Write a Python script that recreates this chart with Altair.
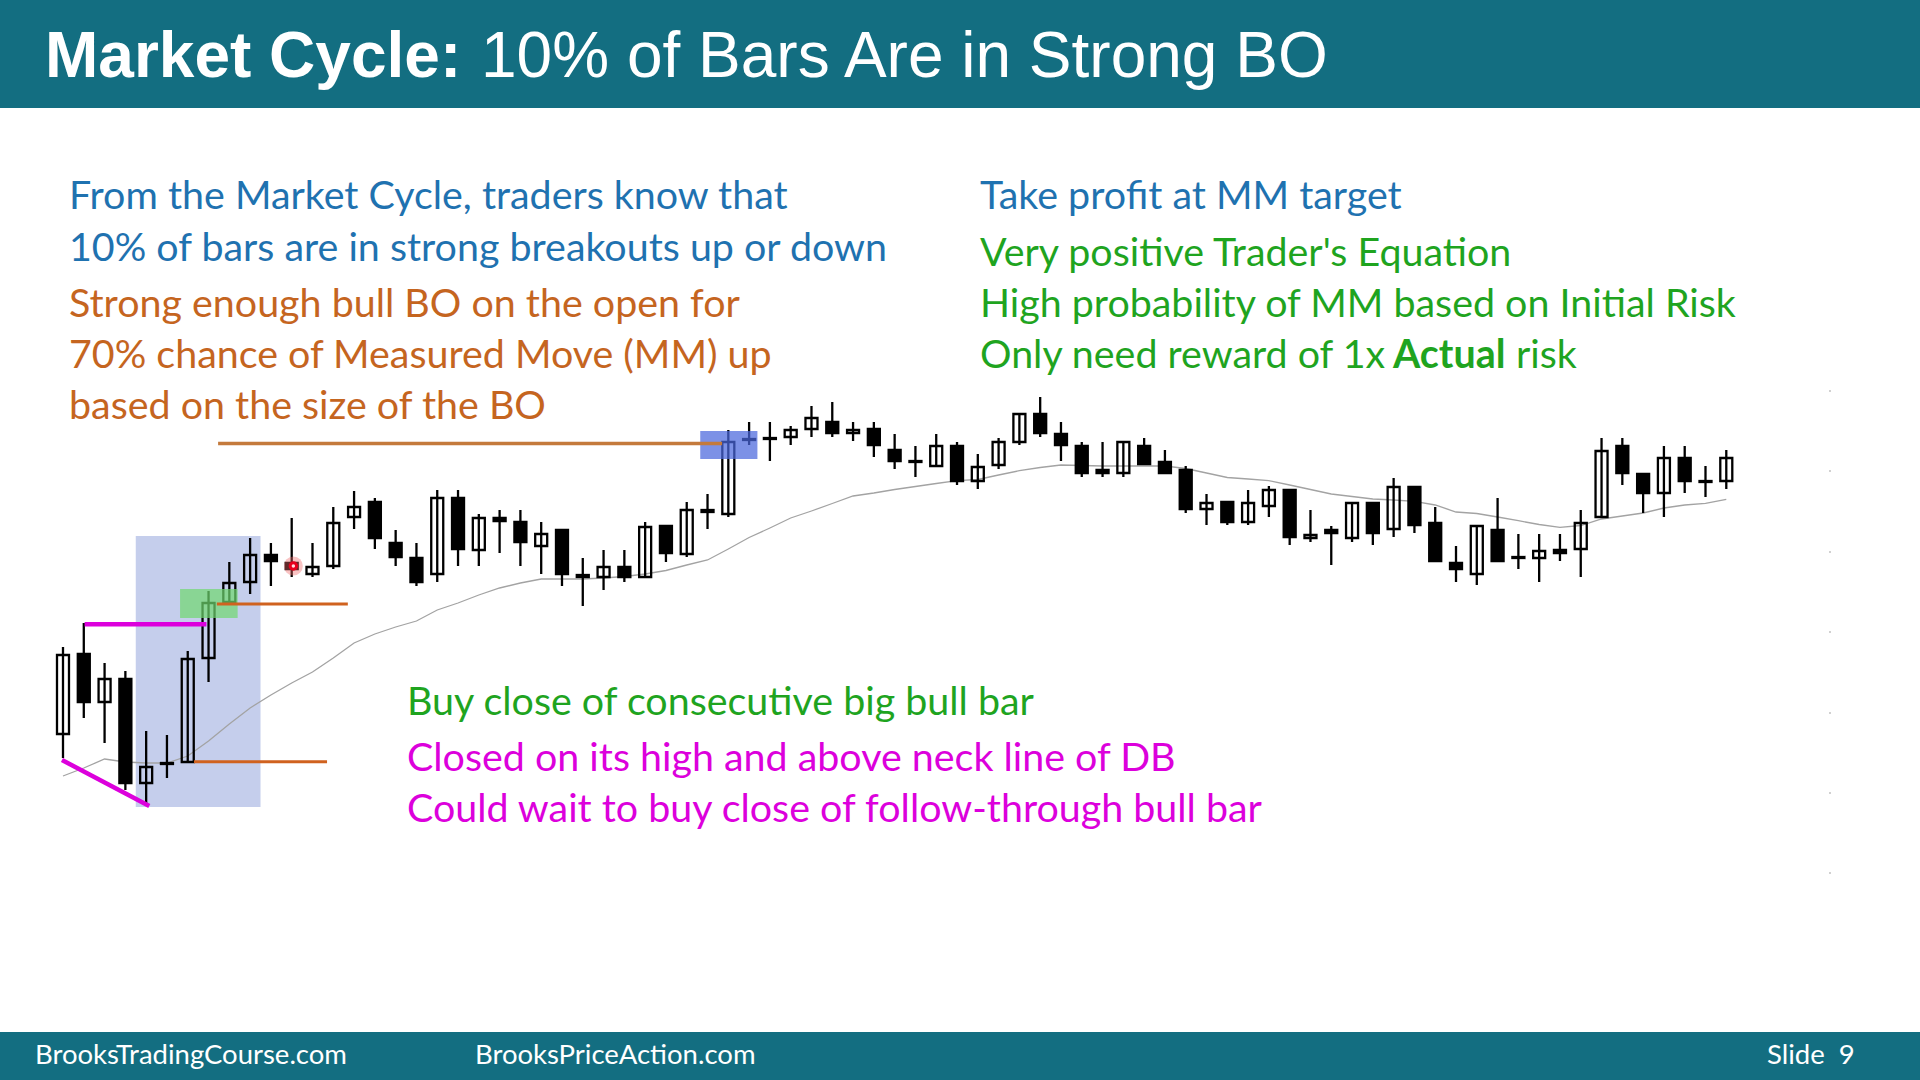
import altair as alt
import pandas as pd

# ---------------- data (price units, bar index 1..81) ----------------
opens = [266, 346, 298, 321, 217, 236, 238, 342, 398, 418,
         445, 437, 426, 434, 483, 498, 457, 442, 426, 502,
         450, 482, 478, 454, 470, 423, 423, 433, 423, 474,
         446, 490, 486, 560, 561, 563, 571, 578, 567, 571,
         550, 538, 534, 554, 519, 535, 558, 586, 566, 554,
         530, 527, 554, 538, 530, 491, 498, 478, 494, 510,
         462, 470, 462, 497, 471, 513, 477, 437, 426, 470,
         442, 442, 450, 451, 483, 554, 526, 507, 542, 518, 519]
highs = [353, 377, 337, 329, 269, 265, 349, 409, 438, 462,
         457, 482, 457, 493, 509, 502, 470, 457, 510, 510,
         486, 490, 490, 478, 470, 442, 450, 450, 478, 474,
         498, 506, 570, 578, 578, 574, 594, 598, 578, 578,
         566, 554, 566, 558, 546, 562, 586, 603, 578, 558,
         558, 558, 562, 550, 534, 506, 498, 510, 514, 510,
         490, 474, 497, 497, 522, 513, 493, 454, 474, 502,
         466, 466, 466, 490, 562, 562, 526, 554, 554, 534, 550]
lows = [242, 282, 257, 210, 195, 222, 238, 318, 397, 406,
        414, 423, 423, 431, 471, 451, 434, 414, 418, 434,
        434, 447, 434, 426, 414, 394, 410, 418, 423, 438,
        443, 471, 483, 555, 539, 555, 563, 563, 559, 543,
        531, 523, 534, 515, 511, 531, 555, 563, 539, 523,
        523, 523, 535, 527, 487, 475, 475, 475, 483, 455,
        458, 435, 458, 455, 463, 467, 439, 418, 415, 439,
        431, 418, 439, 423, 483, 515, 487, 483, 507, 503, 511]
closes = [345, 298, 321, 217, 233, 237, 341, 397, 417, 445,
          439, 431, 433, 477, 493, 462, 443, 418, 502, 451,
          482, 479, 458, 466, 426, 425, 433, 423, 473, 447,
          490, 488, 558, 561, 562, 570, 582, 567, 570, 555,
          539, 539, 554, 519, 533, 558, 586, 567, 555, 527,
          527, 558, 536, 527, 491, 497, 478, 497, 510, 463,
          465, 467, 497, 467, 513, 475, 439, 431, 474, 439,
          443, 449, 447, 477, 549, 527, 507, 542, 519, 519, 542]
moving_avg = [224, 232, 241, 238, 237, 237, 244, 259, 276, 292,
              305, 317, 328, 342, 357, 366, 373, 379, 390, 397,
              405, 412, 417, 421, 421, 421, 422, 423.5, 426, 429.5,
              435, 440, 451, 462.5, 472, 482, 489, 496.5, 504, 507,
              510.5, 513.5, 516.5, 519.3, 520.5, 525, 529.3, 532.5, 535, 534.5,
              534, 534, 534, 534, 531.5, 527, 522.5, 521, 519.3, 515,
              510.5, 506, 503.5, 501, 500, 498.7, 495, 488, 486.5, 483,
              479.3, 475.5, 472.7, 474.5, 481, 484, 487, 492, 495, 496.7, 500.7]

# annotation zones (bar index, price)
bo_zone = {"x1": 4.5, "x2": 10.5, "y1": 193, "y2": 464}
entry_zone = {"x1": 6.63, "x2": 9.4, "y1": 382, "y2": 411}
target_zone = {"x1": 31.65, "x2": 34.4, "y1": 541, "y2": 569}
mm_target = {"x1": 8.46, "x2": 32.7, "y": 556.5}
bo_top = {"x1": 8.4, "x2": 14.7, "y": 396}
bo_bottom = {"x1": 7.3, "x2": 13.7, "y": 238.3}
neck_line = {"x1": 2.04, "x2": 7.9, "y": 375.7}
db_line = {"x1": 0.95, "y1": 240, "x2": 5.15, "y2": 194}
signal_dot = {"x": 12.08, "y": 434}
tick_prices = [609, 529, 448, 368, 287, 207, 127]

title_bold = "Market Cycle:"
title_rest = "10% of Bars Are in Strong BO"
left_blue = ["From the Market Cycle, traders know that",
             "10% of bars are in strong breakouts up or down"]
left_orange = ["Strong enough bull BO on the open for",
               "70% chance of Measured Move (MM) up",
               "based on the size of the BO"]
right_blue = ["Take profit at MM target"]
right_green = ["Very positive Trader's Equation",
               "High probability of MM based on Initial Risk"]
right_last = ["Only need reward of 1x", "Actual", "risk"]
lower_green = ["Buy close of consecutive big bull bar"]
lower_magenta = ["Closed on its high and above neck line of DB",
                 "Could wait to buy close of follow-through bull bar"]
footer = ["BrooksTradingCourse.com", "BrooksPriceAction.com", "Slide \u00a09"]

# ---------------- styling ----------------
W, H = 1920, 1080
TEAL = "#136e81"
BLUE = "#1f72b0"
ORANGE = "#c5651f"
GREEN = "#1fa41f"
MAGENTA = "#dc00dc"
FONT = "Lato"
FS = 39.4

x_scale = alt.Scale(domain=[1 - 58.3 / 20.9, 1 + (W - 58.3) / 20.9], nice=False, zero=False)
y_scale = alt.Scale(domain=[-80, 1000], nice=False, zero=False)

def X(f, **kw):
    return alt.X(f, type="quantitative", scale=x_scale, axis=None, **kw)

def Y(f, **kw):
    return alt.Y(f, type="quantitative", scale=y_scale, axis=None, **kw)

df = pd.DataFrame({"bar": list(range(1, len(opens) + 1)), "open": opens,
                   "high": highs, "low": lows, "close": closes, "ma": moving_avg})
df["top"] = df[["open", "close"]].max(axis=1)
df["bot"] = df[["open", "close"]].min(axis=1)
df["bull"] = df["close"] >= df["open"]

one = pd.DataFrame({"a": [0]})

def band(y0, y1):
    return alt.Chart(one).mark_rect(color=TEAL).encode(
        x=alt.value(0), x2=alt.value(W), y=alt.value(y0), y2=alt.value(y1))

def zone(z, color, opacity):
    d = pd.DataFrame([z])
    return alt.Chart(d).mark_rect(color=color, opacity=opacity).encode(
        x=X("x1"), x2="x2", y=Y("y1"), y2="y2")

def hline(z, color, width):
    d = pd.DataFrame([z])
    return alt.Chart(d).mark_rule(color=color, strokeWidth=width).encode(
        x=X("x1"), x2="x2", y=Y("y"))

def txt(s, x, y, color, size=FS, font=FONT, weight="normal"):
    return alt.Chart(pd.DataFrame({"t": [s]})).mark_text(
        align="left", baseline="alphabetic", font=font, fontSize=size,
        fontWeight=weight, color=color).encode(
        x=alt.value(x), y=alt.value(y), text="t:N")

layers = [band(0, 108), band(1032, H), zone(bo_zone, "#c5ceec", 1)]

layers.append(alt.Chart(df).mark_line(color="#a3a3a3", strokeWidth=1.3).encode(
    x=X("bar"), y=Y("ma")))
layers.append(alt.Chart(df).mark_rule(color="black", strokeWidth=2.3).encode(
    x=X("bar"), y=Y("low"), y2="high"))
layers.append(alt.Chart(df).mark_bar(size=12, stroke="black", strokeWidth=2.3).encode(
    x=X("bar"), y=Y("bot"), y2="top",
    fill=alt.condition("datum.bull", alt.value("transparent"), alt.value("black"))))

layers.append(zone(entry_zone, "#6fd86f", 0.7))
layers.append(zone(target_zone, "#4a66dc", 0.72))
layers.append(hline(mm_target, "#c47a3c", 3.5))
layers.append(hline(bo_top, "#d0621f", 3))
layers.append(hline(bo_bottom, "#d0621f", 3))
layers.append(hline(neck_line, MAGENTA, 4.5))
layers.append(alt.Chart(pd.DataFrame([db_line])).mark_rule(color=MAGENTA, strokeWidth=4.5).encode(
    x=X("x1"), x2="x2", y=Y("y1"), y2="y2"))

dot = pd.DataFrame([signal_dot])
layers.append(alt.Chart(dot).mark_circle(size=360, color="#f06a6a", opacity=0.4).encode(x=X("x"), y=Y("y")))
layers.append(alt.Chart(dot).mark_circle(size=90, color="#e8001c", opacity=1).encode(x=X("x"), y=Y("y")))
layers.append(alt.Chart(dot).mark_circle(size=12, color="#ffe0e0", opacity=1).encode(x=X("x"), y=Y("y")))

ticks = pd.DataFrame({"p": tick_prices})
layers.append(alt.Chart(ticks).mark_square(size=3, color="#9a9a9a").encode(
    x=alt.value(1830), y=Y("p")))

# texts
layers.append(txt(title_bold, 45, 77, "white", 64, "Liberation Sans", "bold"))
layers.append(txt(title_rest, 481, 77, "white", 64, "Liberation Sans"))
for s, yy in zip(left_blue, [209, 261]):
    layers.append(txt(s, 69, yy, BLUE))
for s, yy in zip(left_orange, [317, 368, 419]):
    layers.append(txt(s, 69, yy, ORANGE))
layers.append(txt(right_blue[0], 980, 209, BLUE))
for s, yy in zip(right_green, [266, 317]):
    layers.append(txt(s, 980, yy, GREEN))
layers.append(txt(right_last[0], 980, 368, GREEN))
layers.append(txt(right_last[1], 1393, 368, GREEN, weight="bold"))
layers.append(txt(right_last[2], 1516, 368, GREEN))
layers.append(txt(lower_green[0], 407, 715, GREEN))
for s, yy in zip(lower_magenta, [771, 822]):
    layers.append(txt(s, 407, yy, MAGENTA))
for s, xx in zip(footer, [35, 475, 1767]):
    layers.append(txt(s, xx, 1064, "white", 27.5))

chart = alt.layer(*layers).properties(
    width=W, height=H, padding=0, autosize=alt.AutoSizeParams(type="none"),
    background="white"
).configure_view(stroke=None)

chart.save("out.html", embed_options={"renderer": "svg", "actions": False})
